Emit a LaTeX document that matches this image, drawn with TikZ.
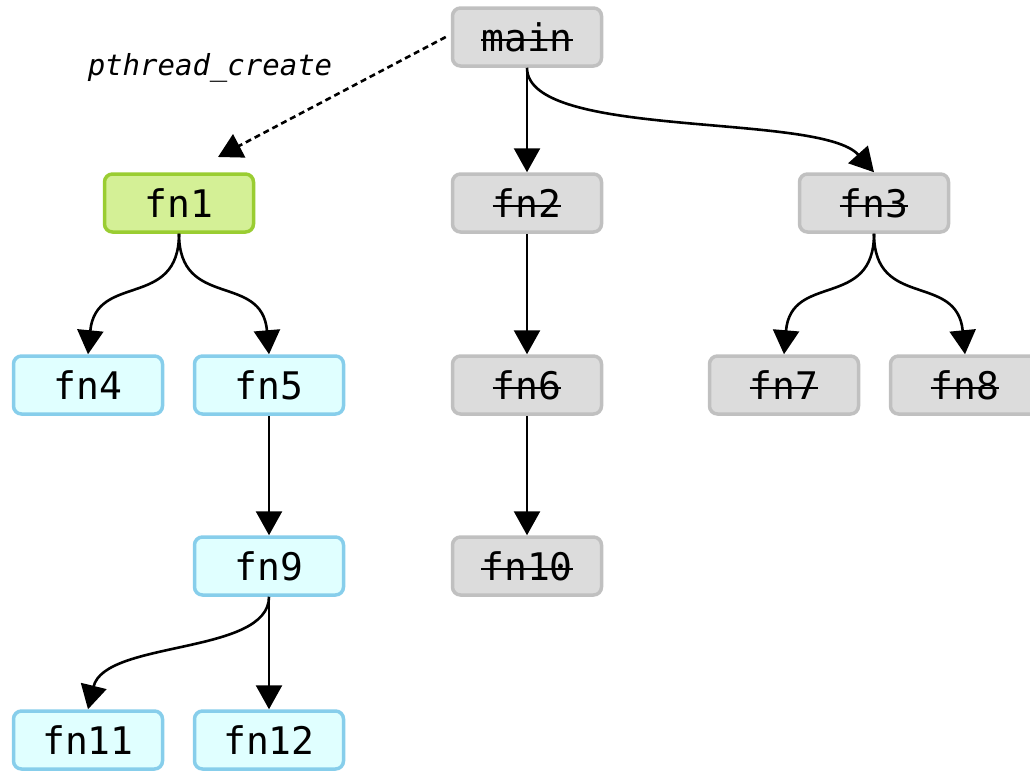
\documentclass[tikz,border=0pt]{standalone}
\usepackage{fontspec}
\setmonofont{DejaVu Sans Mono}
\usetikzlibrary{arrows.meta}

\definecolor{greyfill}{HTML}{DCDCDC}
\definecolor{greyline}{HTML}{C0C0C0}
\definecolor{greenfill}{HTML}{D4F096}
\definecolor{greenline}{HTML}{9ACD32}
\definecolor{cyanfill}{HTML}{E0FFFF}
\definecolor{cyanline}{HTML}{87CEEB}

% struck-through text for functions that have finished
\newsavebox\strkbox
\newcommand{\struck}[1]{\sbox\strkbox{#1}\rlap{\rule[0.27em]{\wd\strkbox}{2.2pt}}\usebox\strkbox}

\tikzset{
  fnbox/.style={rectangle, rounded corners=8pt, line width=3.5pt,
    minimum width=149pt, minimum height=58pt, inner sep=0pt,
    font=\ttfamily\fontsize{38}{42}\selectfont, text=black},
  donebox/.style={fnbox, draw=greyline, fill=greyfill},
  livebox/.style={fnbox, draw=cyanline, fill=cyanfill},
  activebox/.style={fnbox, draw=greenline, fill=greenfill},
  arr/.style={line width=2.6pt, -{Triangle[length=24pt,width=26pt]}},
  spawn/.style={arr, dash pattern=on 6pt off 4pt},
  lbl/.style={font=\ttfamily\itshape\fontsize{29}{34}\selectfont, text=black}
}

\begin{document}
\begin{tikzpicture}[x=1pt, y=-1pt]
\useasboundingbox (0,0) rectangle (1030,771);

% call tree
\node[donebox]   (main) at (527,37)  {\struck{main}};
\node[activebox] (fn1)  at (179,203) {fn1};
\node[donebox]   (fn2)  at (527,203) {\struck{fn2}};
\node[donebox]   (fn3)  at (874,203) {\struck{fn3}};
\node[livebox]   (fn4)  at (88,385)  {fn4};
\node[livebox]   (fn5)  at (269,385) {fn5};
\node[donebox]   (fn6)  at (527,385) {\struck{fn6}};
\node[donebox]   (fn7)  at (784,385) {\struck{fn7}};
\node[donebox]   (fn8)  at (965,385) {\struck{fn8}};
\node[livebox]   (fn9)  at (269,566) {fn9};
\node[donebox]   (fn10) at (527,566) {\struck{fn10}};
\node[livebox]   (fn11) at (88,740)  {fn11};
\node[livebox]   (fn12) at (269,740) {fn12};

% thread spawn
\node[lbl] (plabel) at (210,68) {pthread\_create};
\coordinate (spawnend) at (218,157);
\draw[spawn] ([xshift=-5pt]main.west) -- (spawnend);

% calls
\draw[arr] (main.south) -- (fn2.north);
\draw[arr] (main.south) .. controls (527,140) and (820,112) .. (fn3.north);
\draw[arr] (fn1.south) .. controls (179,310) and (96,272) .. (fn4.north);
\draw[arr] (fn1.south) .. controls (179,310) and (262,272) .. (fn5.north);
\draw[arr] (fn2.south) -- (fn6.north);
\draw[arr] (fn3.south) .. controls (874,310) and (791,272) .. (fn7.north);
\draw[arr] (fn3.south) .. controls (874,310) and (957,272) .. (fn8.north);
\draw[arr] (fn5.south) -- (fn9.north);
\draw[arr] (fn6.south) -- (fn10.north);
\draw[arr] (fn9.south) .. controls (269,655) and (105,640) .. (fn11.north);
\draw[arr] (fn9.south) -- (fn12.north);
\end{tikzpicture}
\end{document}
